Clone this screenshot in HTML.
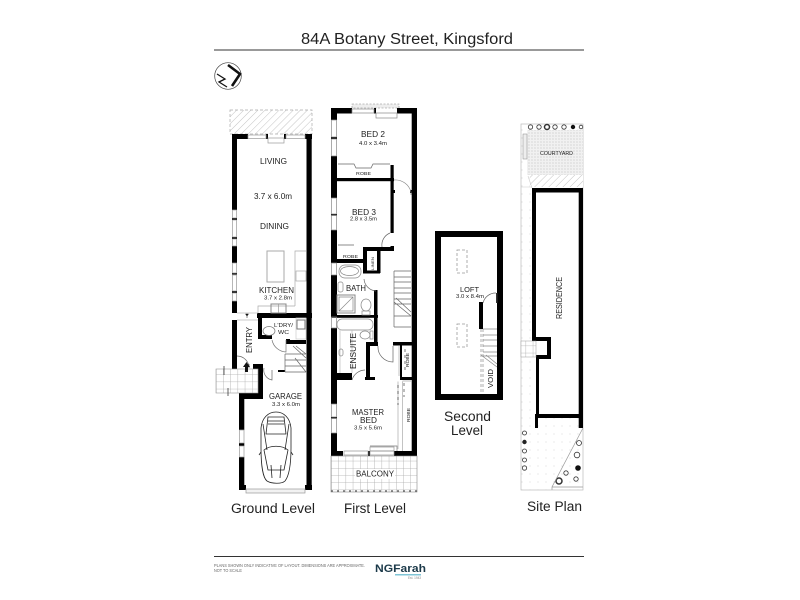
<!DOCTYPE html>
<html><head><meta charset="utf-8"><style>
html,body{margin:0;padding:0;background:#fff}
svg{display:block;filter:blur(.35px)}
text{font-family:"Liberation Sans",sans-serif;fill:#222}
</style></head><body>
<svg width="800" height="600" viewBox="0 0 800 600" xmlns="http://www.w3.org/2000/svg">
<defs>
<pattern id="h" width="5" height="5" patternUnits="userSpaceOnUse" patternTransform="rotate(45)"><rect width="5" height="5" fill="#fff"/><line x1="0" y1="0" x2="0" y2="5" stroke="#c4c4c4" stroke-width="1"/></pattern>
<pattern id="g" width="7.2" height="7.2" patternUnits="userSpaceOnUse"><rect width="7.2" height="7.2" fill="#fff"/><path d="M0 0H7.2M0 0V7.2" stroke="#aaa" stroke-width=".8" fill="none"/></pattern>
<pattern id="d" width="3" height="3" patternUnits="userSpaceOnUse"><rect width="3" height="3" fill="#f1f1f1"/><circle cx="1" cy="1" r=".55" fill="#b5b5b5"/></pattern>
<pattern id="d2" width="8" height="8" patternUnits="userSpaceOnUse"><rect width="8" height="8" fill="#fff"/><circle cx="2" cy="2" r=".5" fill="#ccc"/></pattern>
</defs>
<rect width="800" height="600" fill="#fff"/>

<!-- title -->
<text x="301" y="44" font-size="15.5" textLength="212" lengthAdjust="spacingAndGlyphs">84A Botany Street, Kingsford</text>
<rect x="214" y="49.5" width="370" height="1" fill="#333"/>

<!-- north -->
<circle cx="228" cy="76" r="13.3" fill="#fff" stroke="#444" stroke-width=".7"/>
<path d="M228 65L240 74L232 86" fill="none" stroke="#111" stroke-width="2.6"/>
<path d="M217 74L225 79L219 82L227 87" fill="none" stroke="#111" stroke-width="1.3"/>

<!-- GROUND LEVEL -->
<rect x="230" y="110" width="82" height="24" fill="url(#h)" stroke="#aaa" stroke-width=".7" stroke-dasharray="3 2"/>
<g fill="#000">
<rect x="232" y="134" width="16" height="5"/><rect x="266" y="134" width="2" height="5"/><rect x="284" y="134" width="2" height="5"/><rect x="305" y="134" width="7" height="5"/>
<rect x="232" y="134" width="5" height="76"/><rect x="232" y="218" width="5" height="2"/><rect x="232" y="237" width="5" height="2"/><rect x="232" y="246" width="5" height="17"/><rect x="232" y="273" width="5" height="1.5"/><rect x="232" y="291" width="5" height="2"/><rect x="232" y="301" width="5" height="12"/><rect x="232" y="320" width="5" height="50"/>
<rect x="306.5" y="134" width="5.2" height="356"/>
<rect x="257" y="313" width="55" height="5"/><rect x="258" y="313" width="4" height="25"/><rect x="258" y="335" width="14" height="4"/><rect x="286" y="340" width="20" height="4"/><rect x="286" y="339" width="4" height="5"/>
<rect x="253" y="364" width="10" height="6"/><rect x="258" y="364" width="5" height="34"/><rect x="239" y="393" width="24" height="6"/>
<rect x="239" y="393" width="5.3" height="37"/><rect x="239" y="443" width="5.3" height="3"/><rect x="239" y="457" width="5.3" height="33"/><rect x="239" y="485" width="7" height="5"/><rect x="305" y="485" width="7" height="5"/>
<rect x="278" y="370" width="7" height="2"/>
</g>
<g fill="none" stroke="#999" stroke-width=".7">
<rect x="248" y="135" width="18" height="3.5"/><rect x="268" y="138" width="16" height="5"/><rect x="286" y="135" width="19" height="3.5"/>
<rect x="232.5" y="210" width="4" height="8"/><rect x="232.5" y="220" width="4" height="17"/><rect x="232.5" y="239" width="4" height="7"/><rect x="232.5" y="263" width="4" height="10"/><rect x="232.5" y="275" width="4" height="16"/><rect x="232.5" y="293" width="4" height="8"/>
<rect x="239.5" y="430" width="4.5" height="13"/><rect x="239.5" y="446" width="4.5" height="11"/>
<rect x="246" y="489" width="59" height="4" fill="#f2f2f2"/>
<rect x="267" y="251" width="17" height="31" stroke="#aaa" stroke-width="1"/>
<path d="M295 306V251H306M295 306H258V313" stroke="#aaa"/>
<rect x="296" y="271" width="10" height="10" stroke="#aaa"/>
<rect x="271" y="304" width="15" height="9" stroke="#888" stroke-width="1"/><path d="M278.5 304V313"/>
<rect x="296" y="318" width="10" height="21" stroke="#ccc"/><rect x="297" y="320" width="8" height="9" stroke="#777" stroke-width="1"/>
<ellipse cx="269" cy="331" rx="6" ry="4.5" stroke="#777"/>
<path d="M272 340A15 15 0 0 0 286 352V340" stroke="#777"/>
<path d="M237 313H258M237 320H258" stroke="#bbb"/>
<path d="M237 356A12 12 0 0 1 249 368V364" stroke="#666"/>
<path d="M264 368A10 10 0 0 0 272 380V370" stroke="#666"/>
<path d="M285 354H306M285 360H306M285 366H306M285 372H306M285 354V372M293 346L306 358M296 346L306 354M295 358L306 372" stroke="#666"/>
</g>
<path d="M247 318v-2M247 316l-1.5 -2h3z" fill="#111" stroke="#111" stroke-width=".5"/>
<rect x="216" y="369" width="42" height="24" fill="url(#g)" stroke="#999" stroke-width=".6"/>
<rect x="245" y="366" width="3" height="6" fill="#111"/><path d="M243 367l3.5 -5l3.5 5z" fill="#111"/>
<path d="M224 366v9M228 388v8" stroke="#222" stroke-width=".7"/>
<text x="260" y="164" font-size="8" textLength="27" lengthAdjust="spacingAndGlyphs">LIVING</text>
<text x="254" y="199" font-size="8" textLength="38" lengthAdjust="spacingAndGlyphs">3.7 x 6.0m</text>
<text x="260" y="229" font-size="8" textLength="29" lengthAdjust="spacingAndGlyphs">DINING</text>
<text x="259" y="293" font-size="8" textLength="35" lengthAdjust="spacingAndGlyphs">KITCHEN</text>
<text x="264" y="299.5" font-size="5.5" textLength="28" lengthAdjust="spacingAndGlyphs">3.7 x 2.8m</text>
<text x="274" y="327" font-size="5.5" textLength="19" lengthAdjust="spacingAndGlyphs">L'DRY/</text>
<text x="278" y="334" font-size="5.5" textLength="11" lengthAdjust="spacingAndGlyphs">WC</text>
<text transform="translate(252,353) rotate(-90)" font-size="8" textLength="26" lengthAdjust="spacingAndGlyphs">ENTRY</text>
<text x="269" y="399" font-size="8" textLength="33" lengthAdjust="spacingAndGlyphs">GARAGE</text>
<text x="272" y="406" font-size="5.5" textLength="28" lengthAdjust="spacingAndGlyphs">3.3 x 6.0m</text>
<!-- car -->
<g fill="none" stroke="#222" stroke-width=".8">
<path d="M276 412C268 412 262 418 261 428V448C261 465 263 478 267 481C272 484 282 484 285 481C289 476 291 465 291 448V428C290 418 284 412 276 412Z"/>
<path d="M268 417H284L286 434H266Z M268 421H284M268 424H284M263 424L267 450M289 424L285 450"/>
<path d="M264 450C270 445 282 445 288 450L284 470H268Z M261 452L259 455M291 452L293 455M271 465L272 478M281 465L280 478"/>
</g>
<text x="231" y="513" font-size="13.5" textLength="84" lengthAdjust="spacingAndGlyphs">Ground Level</text>

<!-- FIRST LEVEL -->
<rect x="352" y="104" width="47" height="4" fill="#eee" stroke="#888" stroke-width=".6" stroke-dasharray="2 1.5"/>
<g fill="#000">
<rect x="331" y="108" width="21" height="5.5"/><rect x="374" y="108" width="2" height="5.5"/><rect x="397" y="108" width="20" height="5.5"/>
<rect x="331" y="108" width="6" height="12"/><rect x="331" y="137" width="6" height="2"/><rect x="331" y="156" width="6" height="42"/><rect x="331" y="214" width="6" height="1.5"/><rect x="331" y="230" width="6" height="33"/><rect x="331" y="275" width="6" height="42"/><rect x="331" y="328" width="6" height="76"/><rect x="331" y="417" width="6" height="1.5"/><rect x="331" y="433" width="6" height="23"/>
<rect x="411.7" y="108" width="5.3" height="348"/>
<rect x="331" y="451" width="12" height="5"/><rect x="368" y="451" width="2" height="5"/><rect x="394" y="451" width="23" height="5"/>
<rect x="337" y="178" width="57" height="3.2"/><rect x="390.5" y="165" width="3.2" height="68"/><rect x="393" y="190" width="2" height="3"/><rect x="410" y="190" width="2" height="3"/>
<rect x="363" y="247" width="31" height="4"/><rect x="331" y="259" width="36" height="4"/>
<rect x="363" y="247" width="4" height="26"/><rect x="377" y="250" width="3.5" height="23"/><rect x="363" y="270.5" width="17" height="3"/>
<rect x="390.5" y="246" width="3.5" height="5"/>
<rect x="331" y="315" width="47" height="2.8"/><rect x="374" y="290" width="3.5" height="53"/>
<rect x="366" y="342" width="12" height="4"/><rect x="366" y="342" width="4" height="38"/><rect x="333" y="373" width="19" height="7"/><rect x="365" y="377" width="10" height="3"/>
<rect x="393" y="342" width="24" height="3.5"/><rect x="400" y="345" width="2" height="35"/><rect x="400" y="377" width="12" height="3"/>
</g>
<g fill="none" stroke="#888" stroke-width=".7">
<rect x="352" y="109" width="22" height="4"/><rect x="376" y="113" width="21" height="5"/>
<rect x="331.5" y="120" width="5" height="17"/><rect x="331.5" y="139" width="5" height="17"/><rect x="331.5" y="198" width="5" height="16"/><rect x="331.5" y="215.5" width="5" height="14.5"/><rect x="331.5" y="263" width="5" height="12"/><rect x="331.5" y="317" width="5" height="11"/><rect x="331.5" y="404" width="5" height="13"/><rect x="331.5" y="418.5" width="5" height="14.5"/>
<path d="M338 164H354L356 168H371L373 164H390M338 245H354" stroke="#666"/>
<path d="M394 180A16 16 0 0 1 411 192V195" stroke="#888"/>
<path d="M390 233A13 13 0 0 0 382 247" stroke="#666"/>
<rect x="339" y="265" width="22" height="13" rx="6"/><ellipse cx="349.5" cy="271" rx="9" ry="4.5"/>
<rect x="338" y="282" width="5" height="10" rx="2"/>
<rect x="337" y="295" width="18" height="18" stroke-width="1"/><path d="M339 311L353 297M339 297H353V311H339Z"/>
<ellipse cx="366" cy="305" rx="5" ry="6"/><rect x="362" y="311" width="8" height="4"/>
<path d="M364 279A13 13 0 0 0 376 291" stroke="#666"/>
<rect x="337" y="319" width="36" height="11" rx="5"/><path d="M340 329V373M352 330V373" stroke="#bbb"/>
<ellipse cx="365" cy="335" rx="5" ry="4"/><rect x="370" y="331" width="3" height="8"/>
<rect x="339" y="349" width="4" height="7" rx="2"/>
<path d="M352 380A14 14 0 0 1 365 370" stroke="#666"/>
<path d="M378 346A15 15 0 0 0 393 362V346" stroke="#666"/>
<path d="M394 271V327M394 271H411M394 277H411M394 282H411M394 288H411M394 293H411M394 299H411M394 304H411M394 316H411M394 327H411M396 298L411 312M394 302L411 316" stroke="#666"/>
<path d="M398 381.5V449M402.5 381.5V451M402.5 381H411" stroke="#aaa"/>
<path d="M370 446H397V451M370 451H394" stroke="#777"/>
<path d="M344 451H368V455H344Z M370 447H394V455H370Z" stroke="#999"/>
<path d="M399 346V376" stroke="#aaa"/>
</g>
<path d="M405 349v24M398 385v20M404 383v14" stroke="#222" stroke-width=".6" stroke-dasharray="3 3" fill="none"/>
<rect x="331" y="456" width="86" height="36" fill="url(#g)" stroke="#888" stroke-width=".6"/>
<path d="M331 491H417" stroke="#555" stroke-width="1.2" stroke-dasharray="2 4" fill="none"/>
<rect x="355" y="469" width="40" height="10" fill="#fff"/>
<text x="361" y="137" font-size="8" textLength="24" lengthAdjust="spacingAndGlyphs">BED 2</text>
<text x="359" y="145" font-size="5.5" textLength="28" lengthAdjust="spacingAndGlyphs">4.0 x 3.4m</text>
<text x="356" y="175" font-size="4.5" textLength="15" lengthAdjust="spacingAndGlyphs">ROBE</text>
<text x="352" y="215" font-size="8" textLength="24" lengthAdjust="spacingAndGlyphs">BED 3</text>
<text x="350" y="220.5" font-size="5.5" textLength="27" lengthAdjust="spacingAndGlyphs">2.8 x 3.5m</text>
<text x="343" y="258" font-size="4.5" textLength="15" lengthAdjust="spacingAndGlyphs">ROBE</text>
<text transform="translate(374,270) rotate(-90)" font-size="4" textLength="13" lengthAdjust="spacingAndGlyphs">LINEN</text>
<text x="346" y="291" font-size="8" textLength="20" lengthAdjust="spacingAndGlyphs">BATH</text>
<text transform="translate(356,369) rotate(-90)" font-size="8" textLength="36" lengthAdjust="spacingAndGlyphs">ENSUITE</text>
<text transform="translate(409,367) rotate(-90)" font-size="4.5" textLength="14" lengthAdjust="spacingAndGlyphs">ROBE</text>
<text transform="translate(410,422) rotate(-90)" font-size="4.5" textLength="14" lengthAdjust="spacingAndGlyphs">ROBE</text>
<text x="352" y="415" font-size="8" textLength="32" lengthAdjust="spacingAndGlyphs">MASTER</text>
<text x="360" y="423" font-size="8" textLength="17" lengthAdjust="spacingAndGlyphs">BED</text>
<text x="354" y="429.5" font-size="5.5" textLength="28" lengthAdjust="spacingAndGlyphs">3.5 x 5.6m</text>
<text x="356" y="476.5" font-size="8" textLength="38" lengthAdjust="spacingAndGlyphs">BALCONY</text>
<text x="344" y="513" font-size="13.5" textLength="62" lengthAdjust="spacingAndGlyphs">First Level</text>

<!-- LOFT -->
<rect x="438" y="234" width="62" height="163" fill="#fff" stroke="#000" stroke-width="6"/>
<rect x="479" y="302" width="4" height="27" fill="#000"/>
<rect x="496" y="293" width="1.5" height="10" fill="#333"/>
<path d="M483 303A13 13 0 0 1 496 293" fill="none" stroke="#666" stroke-width=".7"/>
<g fill="none" stroke="#999" stroke-width=".8" stroke-dasharray="3 2">
<rect x="457" y="250" width="10" height="23"/><rect x="457" y="324" width="10" height="23"/>
<path d="M481 329V394M483 329V394"/>
</g>
<path d="M483 329H497M483 335H497M483 340H497M483 346H497M483 352H497M483 356H497M481 355L497 367M486 355L497 364" fill="none" stroke="#888" stroke-width=".7"/>
<text x="460" y="292" font-size="7" textLength="19" lengthAdjust="spacingAndGlyphs">LOFT</text>
<text x="456" y="298" font-size="5.5" textLength="28" lengthAdjust="spacingAndGlyphs">3.0 x 8.4m</text>
<text transform="translate(493,388) rotate(-90)" font-size="7" textLength="19" lengthAdjust="spacingAndGlyphs">VOID</text>
<text x="444" y="421" font-size="13.5" textLength="47" lengthAdjust="spacingAndGlyphs">Second</text>
<text x="451" y="435" font-size="13.5" textLength="32" lengthAdjust="spacingAndGlyphs">Level</text>

<!-- SITE PLAN -->
<rect x="521" y="124" width="62" height="366" fill="url(#d2)" stroke="#bbb" stroke-width=".7"/>
<rect x="527" y="130" width="56" height="45" fill="url(#d)"/>
<rect x="530" y="175" width="53" height="12" fill="url(#h)"/>
<rect x="536" y="192" width="44" height="222" fill="#fff"/>
<g fill="none" stroke="#333" stroke-width=".8">
<circle cx="530.5" cy="127" r="2.2"/><circle cx="539" cy="127" r="2.2"/><circle cx="547" cy="127" r="2.5" stroke-width="1.5"/><circle cx="555" cy="127" r="2.2"/><circle cx="564" cy="127" r="2.2"/>
<circle cx="581" cy="127" r="1.8"/>
<circle cx="524.5" cy="433" r="2"/><circle cx="524.5" cy="451" r="2"/><circle cx="524.5" cy="460" r="2"/><circle cx="524.5" cy="468" r="2.2"/>
<circle cx="579" cy="443" r="2.5"/><circle cx="577" cy="455" r="2.8"/><circle cx="576" cy="479" r="2.2"/><circle cx="566" cy="473" r="2.2"/><circle cx="559" cy="481" r="3" stroke-width="1.5"/>
</g>
<circle cx="573" cy="127" r="2.2" fill="#111"/><circle cx="578" cy="468" r="2.8" fill="#111"/><circle cx="524.5" cy="442" r="2.2" fill="#222"/>
<rect x="523" y="134" width="4" height="25" fill="#eee" stroke="#888" stroke-width=".5"/>
<g fill="#000">
<rect x="532" y="188" width="51" height="4.5"/><rect x="532" y="188" width="4" height="153"/><rect x="578.7" y="188" width="4.3" height="240"/>
<rect x="532" y="337" width="19" height="4"/><rect x="547" y="337" width="4" height="22"/><rect x="536" y="355" width="15" height="4"/><rect x="536" y="355" width="3" height="63"/><rect x="535" y="414" width="48" height="4"/><rect x="535" y="414" width="3" height="14"/>
</g>
<rect x="521" y="341" width="15" height="16" fill="url(#g)" stroke="#999" stroke-width=".5"/>
<path d="M583 428L552 487V490M552 487H583" fill="none" stroke="#999" stroke-width=".7"/>
<path d="M528 176L532 188M521 187H532" stroke="#ccc" stroke-width=".6" fill="none"/>
<text x="540" y="155" font-size="5.2" textLength="33" lengthAdjust="spacingAndGlyphs">COURTYARD</text>
<text transform="translate(562,319) rotate(-90)" font-size="8" textLength="42" lengthAdjust="spacingAndGlyphs">RESIDENCE</text>
<text x="527" y="511" font-size="13.5" textLength="55" lengthAdjust="spacingAndGlyphs">Site Plan</text>

<!-- footer -->
<rect x="214" y="556" width="370" height="1" fill="#333"/>
<text x="214" y="567" font-size="4.3" textLength="151" lengthAdjust="spacingAndGlyphs" style="fill:#666">PLANS SHOWN ONLY INDICATIVE OF LAYOUT. DIMENSIONS ARE APPROXIMATE.</text>
<text x="214" y="572" font-size="4.3" textLength="28" lengthAdjust="spacingAndGlyphs" style="fill:#666">NOT TO SCALE</text>
<text x="375" y="572" font-size="11" textLength="51" lengthAdjust="spacingAndGlyphs" font-weight="bold" style="fill:#1c3a4a">NGFarah</text>
<rect x="395" y="574" width="26" height="1.5" fill="#7fc4d6"/>
<text x="408" y="579" font-size="3.5" textLength="13" lengthAdjust="spacingAndGlyphs" style="fill:#888">Est. 1943</text>
</svg>
</body></html>
